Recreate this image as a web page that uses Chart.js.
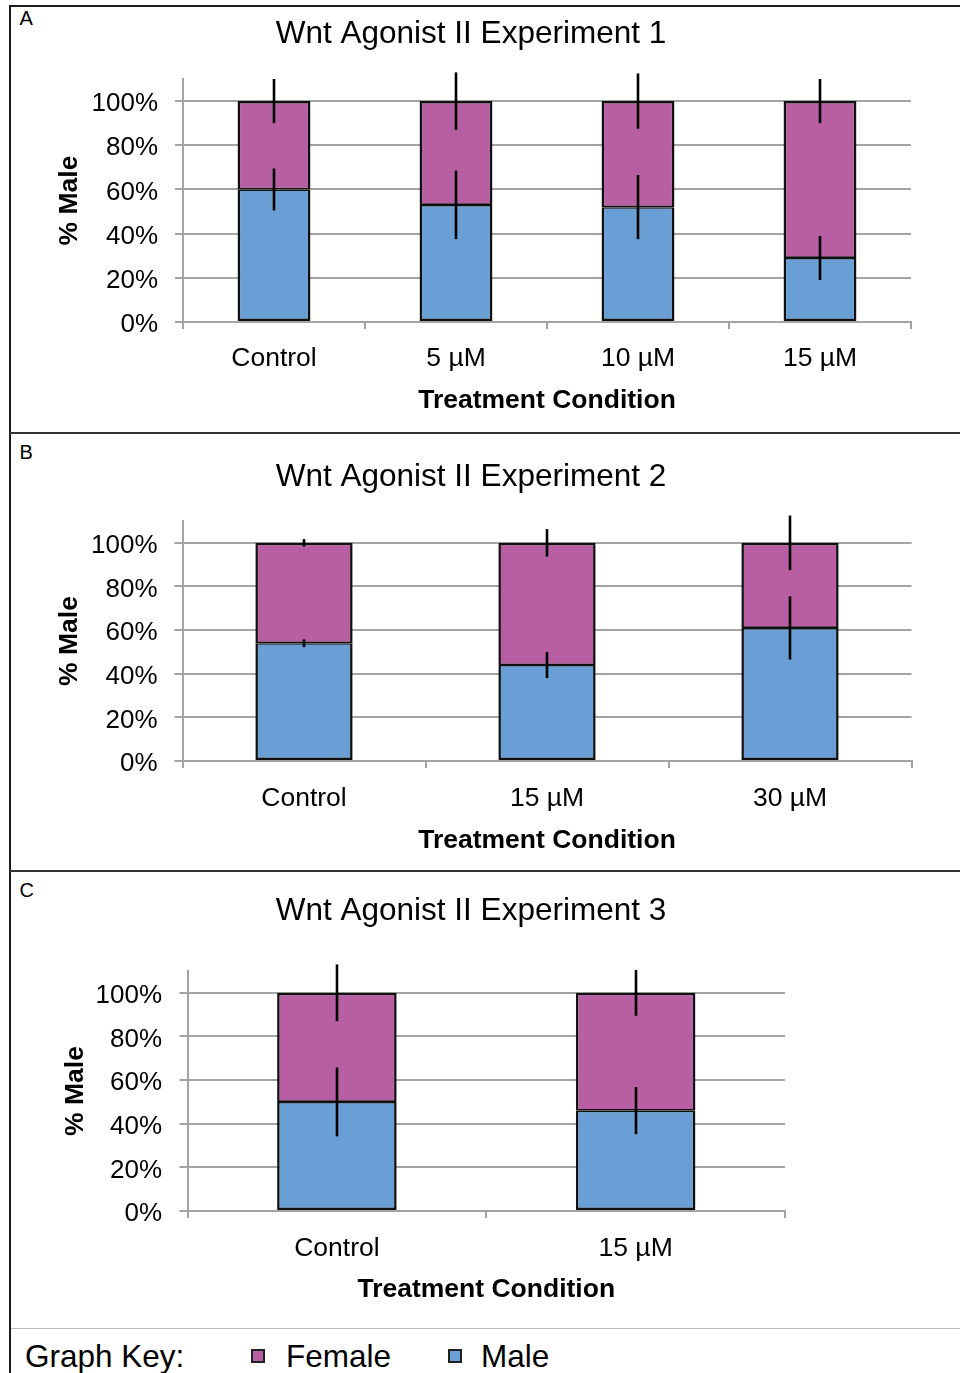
<!DOCTYPE html>
<html>
<head>
<meta charset="utf-8">
<script src="https://cdn.jsdelivr.net/npm/chart.js@4.4.1/dist/chart.umd.min.js"></script>
<style>
  html, body { margin: 0; padding: 0; background: #fff; }
  body { width: 960px; height: 1373px; position: relative; overflow: hidden;
         font-family: "Liberation Sans", Arial, sans-serif; color: #000; }
  .panel { position: absolute; left: 11px; }
  .rule { position: absolute; background: #1c1c1c; }
  .tag { position: absolute; left: 19.5px; font-size: 20px; line-height: 20px; }
  .key { position: absolute; font-size: 31.5px; line-height: 31.5px; top: 1340.5px; white-space: nowrap; }
  .swatch { position: absolute; top: 1349px; width: 10px; height: 10px; border: 2px solid #222; }
</style>
</head>
<body>

<!-- frame -->
<div class="rule" style="left:9px; top:5px; width:951px; height:2px;"></div>
<div class="rule" style="left:9px; top:5px; width:2px; height:1368px;"></div>
<div class="rule" style="left:9px; top:432px; width:951px; height:1.5px; background:#333;"></div>
<div class="rule" style="left:9px; top:870px; width:951px; height:1.5px; background:#333;"></div>
<div class="rule" style="left:11px; top:1328px; width:949px; height:1px; background:#bdbdbd;"></div>

<div class="tag" style="top:7.5px;">A</div>
<div class="tag" style="top:441.5px;">B</div>
<div class="tag" style="top:879.5px;">C</div>

<canvas id="chartA" class="panel" style="top:7px;" width="920" height="425"></canvas>
<canvas id="chartB" class="panel" style="top:434px;" width="920" height="436"></canvas>
<canvas id="chartC" class="panel" style="top:872px;" width="920" height="455"></canvas>

<!-- key -->
<div class="key" style="left:25px;">Graph Key:</div>
<div class="swatch" style="left:251px; background:#b75fa2;"></div>
<div class="key" style="left:286px;">Female</div>
<div class="swatch" style="left:448px; background:#699fd4;"></div>
<div class="key" style="left:481px;">Male</div>

<script>
// Experiment 1
const catsA = ['Control', '5 µM', '10 µM', '15 µM'];
const maleA = [60, 53, 52, 29];
const femaleA = [40, 47, 48, 71];
const maleErrA = [9.5, 15.5, 14.5, 10];
const femaleErrA = [10, 13, 12.5, 10];

// Experiment 2
const catsB = ['Control', '15 µM', '30 µM'];
const maleB = [54, 44, 61];
const femaleB = [46, 56, 39];
const maleErrB = [1.8, 6, 14.5];
const femaleErrB = [1.7, 6.3, 12.5];

// Experiment 3
const catsC = ['Control', '15 µM'];
const maleC = [50, 46];
const femaleC = [50, 54];
const maleErrC = [15.8, 10.8];
const femaleErrC = [13, 10.5];

// y axis: labelled 0–100%, axis line runs on to 110%
const yTickValues = [0, 20, 40, 60, 80, 100];
const yMin = 0;
const yMax = 110;

const FONT = '"Liberation Sans", Arial, sans-serif';
const MALE_FILL = '#699fd4';
const FEMALE_FILL = '#b75fa2';
const EDGE = '#111111';
const GRID = '#a3a3a3';

Chart.defaults.font.family = FONT;
Chart.defaults.color = '#000';

// soft shadow behind the bars
const barShadow = {
  id: 'barShadow',
  beforeDatasetsDraw(chart) {
    const c = chart.ctx;
    c.save();
    c.shadowColor = 'rgba(0,0,0,0.22)';
    c.shadowBlur = 5;
    c.shadowOffsetX = 0.5;
    c.shadowOffsetY = 0.5;
  },
  afterDatasetsDraw(chart) {
    chart.ctx.restore();
  }
};

// vertical error bars centred on the top of each stacked segment
const errorBars = {
  id: 'errorBars',
  afterDatasetsDraw(chart) {
    const c = chart.ctx;
    const y = chart.scales.y;
    const ds = chart.data.datasets;
    c.save();
    c.strokeStyle = '#000';
    c.lineWidth = 2.6;
    c.lineCap = 'butt';
    ds.forEach((set, i) => {
      const meta = chart.getDatasetMeta(i);
      meta.data.forEach((bar, j) => {
        let top = 0;
        for (let k = 0; k <= i; k++) top += ds[k].data[j];
        const e = set.errors[j];
        const x = Math.round(bar.x);
        c.beginPath();
        c.moveTo(x, y.getPixelForValue(top - e));
        c.lineTo(x, y.getPixelForValue(top + e));
        c.stroke();
      });
    });
    c.restore();
  }
};

function buildChart(id, p) {
  return new Chart(document.getElementById(id), {
    type: 'bar',
    data: {
      labels: p.labels,
      datasets: [
        {
          label: 'Male', data: p.male, errors: p.maleErr,
          backgroundColor: MALE_FILL, borderColor: EDGE, borderSkipped: false,
          borderWidth: { left: 2.5, right: 2.5, bottom: 2.5, top: 1.6 }
        },
        {
          label: 'Female', data: p.female, errors: p.femaleErr,
          backgroundColor: FEMALE_FILL, borderColor: EDGE, borderSkipped: false,
          borderWidth: { left: 2.5, right: 2.5, top: 2.5, bottom: 1.6 }
        }
      ]
    },
    options: {
      responsive: false,
      animation: false,
      events: [],
      layout: { padding: 0 },
      datasets: { bar: { barPercentage: 0.4, categoryPercentage: 1.0 } },
      plugins: {
        legend: { display: false },
        tooltip: { enabled: false },
        title: {
          display: true, text: p.title, color: '#000',
          font: { size: 31.5, weight: 'normal', family: FONT, lineHeight: 1.2 },
          padding: { top: p.titleTop, bottom: p.titleBottom }
        }
      },
      scales: {
        x: {
          stacked: true,
          offset: true,
          grid: { offset: true, drawOnChartArea: false, drawTicks: true, tickLength: 7,
                  color: GRID, lineWidth: 2 },
          border: { color: GRID, width: 2 },
          ticks: { color: '#000', font: { size: 26.5, family: FONT }, padding: p.xTickPad,
                   maxRotation: 0, autoSkip: false },
          title: { display: true, text: 'Treatment Condition', color: '#000',
                   font: { size: 26.5, weight: 'bold', family: FONT, lineHeight: 1.2 },
                   padding: { top: 0, bottom: p.xTitlePad } },
          afterFit: s => { s.height = p.xHeight; }
        },
        y: {
          stacked: true,
          min: yMin, max: yMax,
          ticks: { color: '#000', font: { size: 26, family: FONT }, labelOffset: 3,
                   padding: p.yTickPad, callback: v => v + '%' },
          afterBuildTicks: s => { s.ticks = yTickValues.map(v => ({ value: v })); },
          grid: { color: GRID, lineWidth: 2, tickLength: 8 },
          border: { color: GRID, width: 2 },
          title: { display: true, text: '% Male', color: '#000',
                   font: { size: 26.5, weight: 'bold', family: FONT, lineHeight: 1.2 },
                   padding: { top: p.yTitlePad, bottom: 0 } },
          afterFit: s => { s.width = p.yWidth; }
        },
        gap: {
          type: 'linear', position: 'right', display: true,
          grid: { display: false }, border: { display: false }, ticks: { display: false },
          afterFit: s => { s.width = p.rightGap; }
        }
      }
    },
    plugins: [barShadow, errorBars]
  });
}

buildChart('chartA', {
  labels: catsA, male: maleA, female: femaleA, maleErr: maleErrA, femaleErr: femaleErrA,
  title: 'Wnt Agonist II Experiment 1',
  titleTop: 8.6, titleBottom: 25.6,
  xHeight: 110, xTickPad: 14, xTitlePad: 15,
  yWidth: 172, yTickPad: 17, yTitlePad: 43.2, rightGap: 20
});

buildChart('chartB', {
  labels: catsB, male: maleB, female: femaleB, maleErr: maleErrB, femaleErr: femaleErrB,
  title: 'Wnt Agonist II Experiment 2',
  titleTop: 24.1, titleBottom: 25.1,
  xHeight: 109, xTickPad: 15, xTitlePad: 13.1,
  yWidth: 171.5, yTickPad: 17, yTitlePad: 43.2, rightGap: 19.5
});

buildChart('chartC', {
  labels: catsC, male: maleC, female: femaleC, maleErr: maleErrC, femaleErr: femaleErrC,
  title: 'Wnt Agonist II Experiment 3',
  titleTop: 20.1, titleBottom: 41.1,
  xHeight: 116, xTickPad: 15, xTitlePad: 21.1,
  yWidth: 176.5, yTickPad: 17.5, yTitlePad: 49.2, rightGap: 146
});
</script>
</body>
</html>
